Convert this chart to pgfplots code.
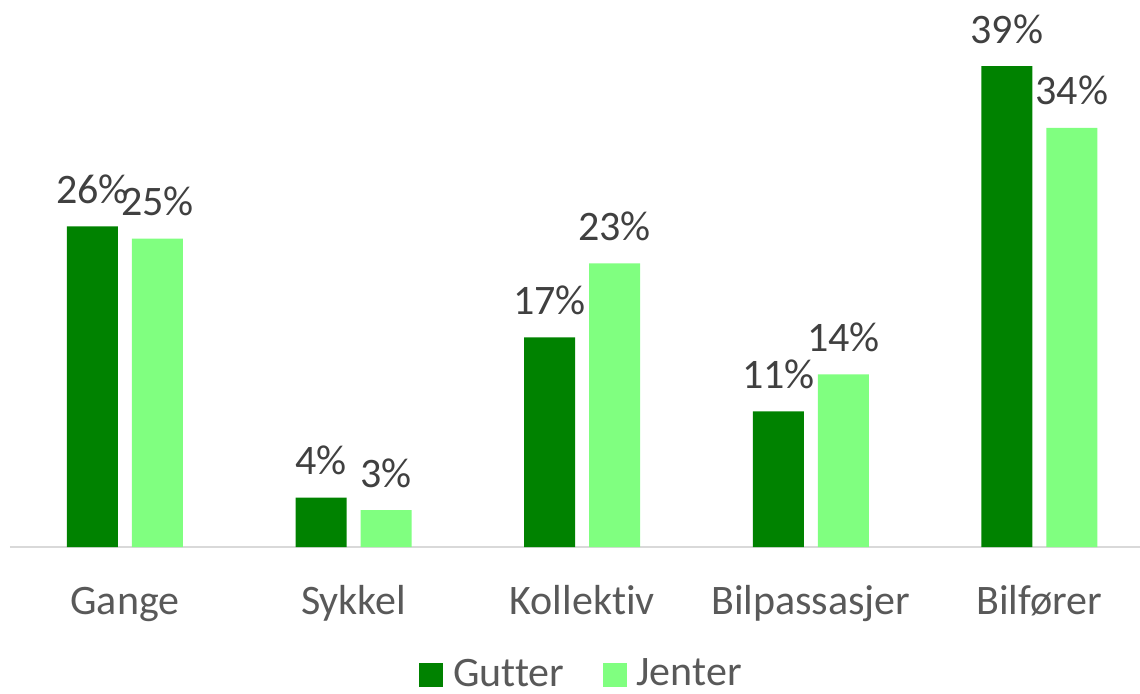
\documentclass[border=0pt]{standalone}
\usepackage{fontspec}
\setmainfont{Carlito}[Ligatures=CommonOff]
\usepackage{pgfplots}
\pgfplotsset{compat=1.18}
\definecolor{gutter}{RGB}{0,130,0}
\definecolor{jenter}{RGB}{128,255,128}
\definecolor{lbl}{HTML}{404040}
\definecolor{axlbl}{HTML}{595959}
\definecolor{axline}{HTML}{D9D9D9}
\begin{document}
\begin{tikzpicture}
\begin{axis}[
  at={(0,0)}, anchor=south west,
  scale only axis, width=565pt, height=273.5pt,
  xmin=-0.503, xmax=4.44, ymin=0, ymax=44.36,
  axis x line*=bottom, axis y line=none,
  x axis line style={draw=axline, line width=1pt},
  xtick={0,1,2,3,4},
  xticklabels={Gange,Sykkel,Kollektiv,Bilpassasjer,Bilfører},
  major tick length=0pt,
  xticklabel style={font=\fontsize{21}{25}\selectfont, text=axlbl, anchor=base, yshift=-33.5pt},
  ytick=\empty,
  /pgf/number format/assume math mode=true,
  ybar, bar width=25.5pt,
  nodes near coords={\pgfmathprintnumber{\pgfplotspointmeta}\%},
  every node near coord/.append style={font=\fontsize{21}{25}\selectfont, text=lbl, anchor=base, yshift=11.5pt, inner sep=0pt},
  legend style={draw=none, fill=none, at={(0.5066,-0.2322)}, anchor=center, legend columns=2,
    font=\fontsize{21}{25}\selectfont, text=axlbl, inner sep=0pt,
    /tikz/every odd column/.append style={column sep=3pt},
    /tikz/every even column/.append style={column sep=17pt}},
  legend image code/.code={\path[#1, draw=none] (0pt,-6.5pt) rectangle (12pt,5.5pt);},
  clip=false,
]
\addplot[fill=gutter, draw=none, bar shift=-16.25pt] coordinates {(0,26) (1,4) (2,17) (3,11) (4,39)};
\addplot[fill=jenter, draw=none, bar shift=16.25pt] coordinates {(0,25) (1,3) (2,23) (3,14) (4,34)};
\legend{Gutter,Jenter}
\end{axis}
\pgfresetboundingbox
\path[use as bounding box] (-5pt,-73pt) rectangle (565pt,273.5pt);
\end{tikzpicture}
\end{document}
